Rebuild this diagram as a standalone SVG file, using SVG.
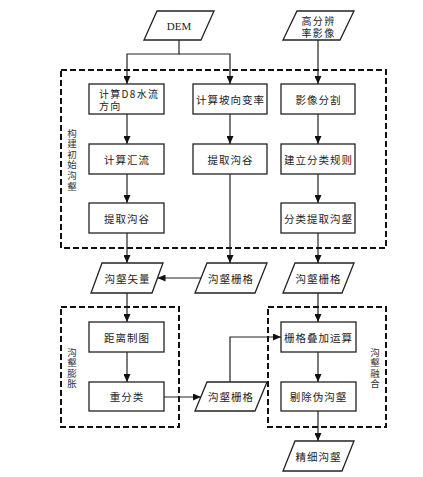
<svg xmlns="http://www.w3.org/2000/svg" width="423" height="477" viewBox="0 0 423 477">
<defs>
<marker id="ah" markerUnits="userSpaceOnUse" markerWidth="8" markerHeight="7" refX="8" refY="3.5" orient="auto">
<path d="M0,0 L8,3.5 L0,7 z" fill="#111"/>
</marker>
<style>
.box{fill:#fff;stroke:#222;stroke-width:1.3}
.grp{fill:none;stroke:#111;stroke-width:2;stroke-dasharray:6,3}
.t{font-family:"Noto Sans CJK SC","Noto Sans",sans-serif;font-size:10.5px;letter-spacing:1px;fill:#222;text-anchor:middle;dominant-baseline:central}
.t2{font-size:10px;letter-spacing:1.3px}
.v{font-family:"Noto Sans CJK SC","Noto Sans",sans-serif;font-size:9.5px;letter-spacing:1.1px;fill:#333;writing-mode:vertical-rl;text-orientation:upright}
.e{font-family:"Liberation Serif",serif;font-size:11px;fill:#222;text-anchor:middle;dominant-baseline:central}
.c{fill:none;stroke:#222;stroke-width:1.2;marker-end:url(#ah)}
</style>
</defs>
<rect width="423" height="477" fill="#fff"/>
<g id="groups">
<rect class="grp" x="61" y="70" width="325" height="178"/>
<rect class="grp" x="61" y="307" width="118" height="120"/>
<rect class="grp" x="268" y="307" width="118" height="120"/>
<text id="label-build" class="v" x="72" y="128.3">构建初始沟壑</text>
<text id="label-expand" class="v" x="72" y="347.3">沟壑膨胀</text>
<text id="label-fuse" class="v" x="375" y="347.3">沟壑融合</text>
</g>
<g id="connectors">
<path class="c" d="M179,40 V54 H127 V84"/>
<path class="c" d="M179,54 H230 V84"/>
<path class="c" d="M318,40 V84"/>
<path class="c" d="M127,114 V144"/>
<path class="c" d="M127,174 V203"/>
<path class="c" d="M127,233 V263"/>
<path class="c" d="M230,114 V144"/>
<path class="c" d="M230,174 V263"/>
<path class="c" d="M318,114 V144"/>
<path class="c" d="M318,174 V203"/>
<path class="c" d="M318,233 V263"/>
<path class="c" d="M201,278 H157.5"/>
<path class="c" d="M127,293 V322"/>
<path class="c" d="M127,352 V382"/>
<path class="c" d="M164,397 H201"/>
<path class="c" d="M230,382 V337 H281"/>
<path class="c" d="M318,293 V322"/>
<path class="c" d="M318,352 V382"/>
<path class="c" d="M318,411 V441"/>
</g>
<g id="dem"><polygon class="box" points="157,11 214,11 201,40 144,40"/><text class="e" x="179" y="25.5">DEM</text></g>
<g id="image"><polygon class="box" points="297,11 354,11 340,40 283,40"/><text class="t t2"><tspan x="318.5" y="19.5">高分辨</tspan><tspan x="318.5" y="31.5">率影像</tspan></text></g>
<g id="d8"><rect class="box" x="89" y="84" width="75" height="30"/><text class="t t2" style="text-anchor:start"><tspan x="99" y="93">计算D8水流</tspan><tspan x="99" y="105">方向</tspan></text></g>
<g id="aspect"><rect class="box" x="193" y="84" width="74" height="30"/><text class="t" x="230.5" y="99">计算坡向变率</text></g>
<g id="seg"><rect class="box" x="281" y="84" width="74" height="30"/><text class="t" x="318.5" y="99">影像分割</text></g>
<g id="acc"><rect class="box" x="89" y="144" width="75" height="30"/><text class="t" x="127" y="159">计算汇流</text></g>
<g id="valley2"><rect class="box" x="193" y="144" width="74" height="30"/><text class="t" x="230.5" y="159">提取沟谷</text></g>
<g id="rule"><rect class="box" x="281" y="144" width="74" height="30"/><text class="t" x="318.5" y="159">建立分类规则</text></g>
<g id="valley1"><rect class="box" x="89" y="203" width="75" height="30"/><text class="t" x="127" y="218">提取沟谷</text></g>
<g id="classify"><rect class="box" x="281" y="203" width="74" height="30"/><text class="t" x="318.5" y="218">分类提取沟壑</text></g>
<g id="vector"><polygon class="box" points="102,263 163,263 152,293 91,293"/><text class="t" x="127.5" y="278">沟壑矢量</text></g>
<g id="raster-mid"><polygon class="box" points="207,263 267,263 255,293 195,293"/><text class="t" x="231" y="278">沟壑栅格</text></g>
<g id="raster-right"><polygon class="box" points="295,263 354,263 342,293 283,293"/><text class="t" x="318.5" y="278">沟壑栅格</text></g>
<g id="dist"><rect class="box" x="89" y="322" width="75" height="30"/><text class="t" x="127" y="337">距离制图</text></g>
<g id="reclass"><rect class="box" x="89" y="382" width="75" height="29"/><text class="t" x="127" y="396.5">重分类</text></g>
<g id="raster-low"><polygon class="box" points="207,382 267,382 255,411 195,411"/><text class="t" x="231" y="396.5">沟壑栅格</text></g>
<g id="overlay"><rect class="box" x="281" y="322" width="75" height="30"/><text class="t" x="318.5" y="337">栅格叠加运算</text></g>
<g id="remove"><rect class="box" x="281" y="382" width="75" height="29"/><text class="t" x="318.5" y="396.5">剔除伪沟壑</text></g>
<g id="fine"><polygon class="box" points="295,441 354,441 342,471 283,471"/><text class="t" x="318.5" y="456">精细沟壑</text></g>
</svg>
